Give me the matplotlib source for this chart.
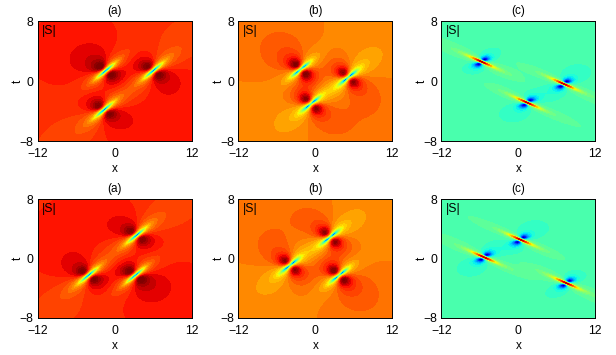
import numpy as np
import matplotlib
matplotlib.use("Agg")
import matplotlib.pyplot as plt

plt.rcParams['font.family'] = ['Liberation Sans', 'DejaVu Sans']

titles = ['(a)', '(b)', '(c)']
# lump centres (x, t)
top_a = [(-1.4, 1.42), (6.0, 1.42), (-1.66, -3.8)]
top_b = [(-2.28, 1.6), (5.14, 0.53), (-0.68, -3.0)]
top_c = [(-5.7, 2.6), (7.1, -0.35), (1.4, -2.85)]
bot_a = [(3.4, 3.15), (-4.1, -2.25), (3.2, -2.25)]
bot_b = [(2.3, 2.9), (-3.95, -0.9), (3.7, -2.25)]
bot_c = [(0.36, 2.55), (-5.35, 0.2), (7.5, -3.3)]
# per-panel shape estimates
base_level = [0.86, 0.77, 0.44]
amplitude = [-0.75, -0.42, 0.52]
core_angle = [36, 35, -21]
lobe_angle = [148, 141, 34]
core_len = [1.7, 1.0, 2.2]
core_wid = [0.32, 0.3, 0.15]
tail_k = [1.0, 14.0, 1.0]
broad_len = [1.5, 1.6, 2.4]
broad_wid = [0.85, 1.1, 0.5]
broad_weight = [0.5, 0.55, 0.25]
lobe_wid = [1.15, 1.2, 0.72]
lobe_len = [1.3, 1.2, 0.7]
lobe_m = [1.9, 4.5, 6.0]
halo_wid = [3.0, 3.0, 2.5]
halo_len = [3.0, 2.5, 2.5]
halo_m = [0.18, 0.3, 0.1]

x = np.linspace(-12, 12, 800)
t = np.linspace(-8, 8, 500)
X, T = np.meshgrid(x, t)


def field(centres, i):
    Z = np.full_like(X, base_level[i])
    pc, pl = np.radians(core_angle[i]), np.radians(lobe_angle[i])
    inv = np.linalg.inv(np.array([[np.cos(pc), np.cos(pl)], [np.sin(pc), np.sin(pl)]]))
    wt = broad_weight[i]
    for cx, ct in centres:
        s = inv[0, 0] * (X - cx) + inv[0, 1] * (T - ct)
        w = inv[1, 0] * (X - cx) + inv[1, 1] * (T - ct)
        U2, V2 = (s / core_len[i]) ** 2, (w / core_wid[i]) ** 2
        narrow = (tail_k[i] * U2 + 1) / (U2 + V2 + 1) ** 3
        A2, B2 = (s / broad_len[i]) ** 2, (w / broad_wid[i]) ** 2
        broad = (A2 + 1) / (A2 + B2 + 1) ** 2
        P2, R2 = (s / lobe_len[i]) ** 2, (w / lobe_wid[i]) ** 2
        lobe = -lobe_m[i] * R2 / (P2 + R2 + 1) ** 3
        H2, J2 = (s / halo_len[i]) ** 2, (w / halo_wid[i]) ** 2
        halo = -halo_m[i] * J2 / (H2 + J2 + 1) ** 2
        Z += amplitude[i] * ((1 - wt) * narrow + wt * broad + lobe + halo)
    return Z


fig = plt.figure(figsize=(6.16, 3.55), dpi=100)
W, H = 616, 355
lefts = [37.7, 238.3, 441.3]
rows = [(21.3, 141.3, [top_a, top_b, top_c]), (199.3, 318.0, [bot_a, bot_b, bot_c])]
levels = np.linspace(0, 1, 41)
for top, bottom, sets in rows:
    for i, centres in enumerate(sets):
        ax = fig.add_axes([lefts[i] / W, 1 - bottom / H, 154 / W, (bottom - top) / H])
        ax.contourf(X, T, field(centres, i), levels=levels, cmap='jet', vmin=0, vmax=1, extend='both')
        ax.set_xlim(-12, 12)
        ax.set_ylim(-8, 8)
        ax.set_xticks([-12, 0, 12])
        ax.set_yticks([-8, 0, 8])
        ax.tick_params(length=0, labelsize=8.8, pad=3)
        ax.tick_params(axis='x', pad=5)
        ax.set_title(titles[i], fontsize=8.5, pad=5)
        ax.set_xlabel('x', fontsize=8.5, labelpad=2)
        ax.set_ylabel('t', fontsize=8.5, labelpad=-3)
        ax.text(0.03, 0.97, '|S|', transform=ax.transAxes, fontsize=8.8, va='top', ha='left')
        for sp in ax.spines.values():
            sp.set_linewidth(0.7)
fig.savefig('out.png', dpi=100)
